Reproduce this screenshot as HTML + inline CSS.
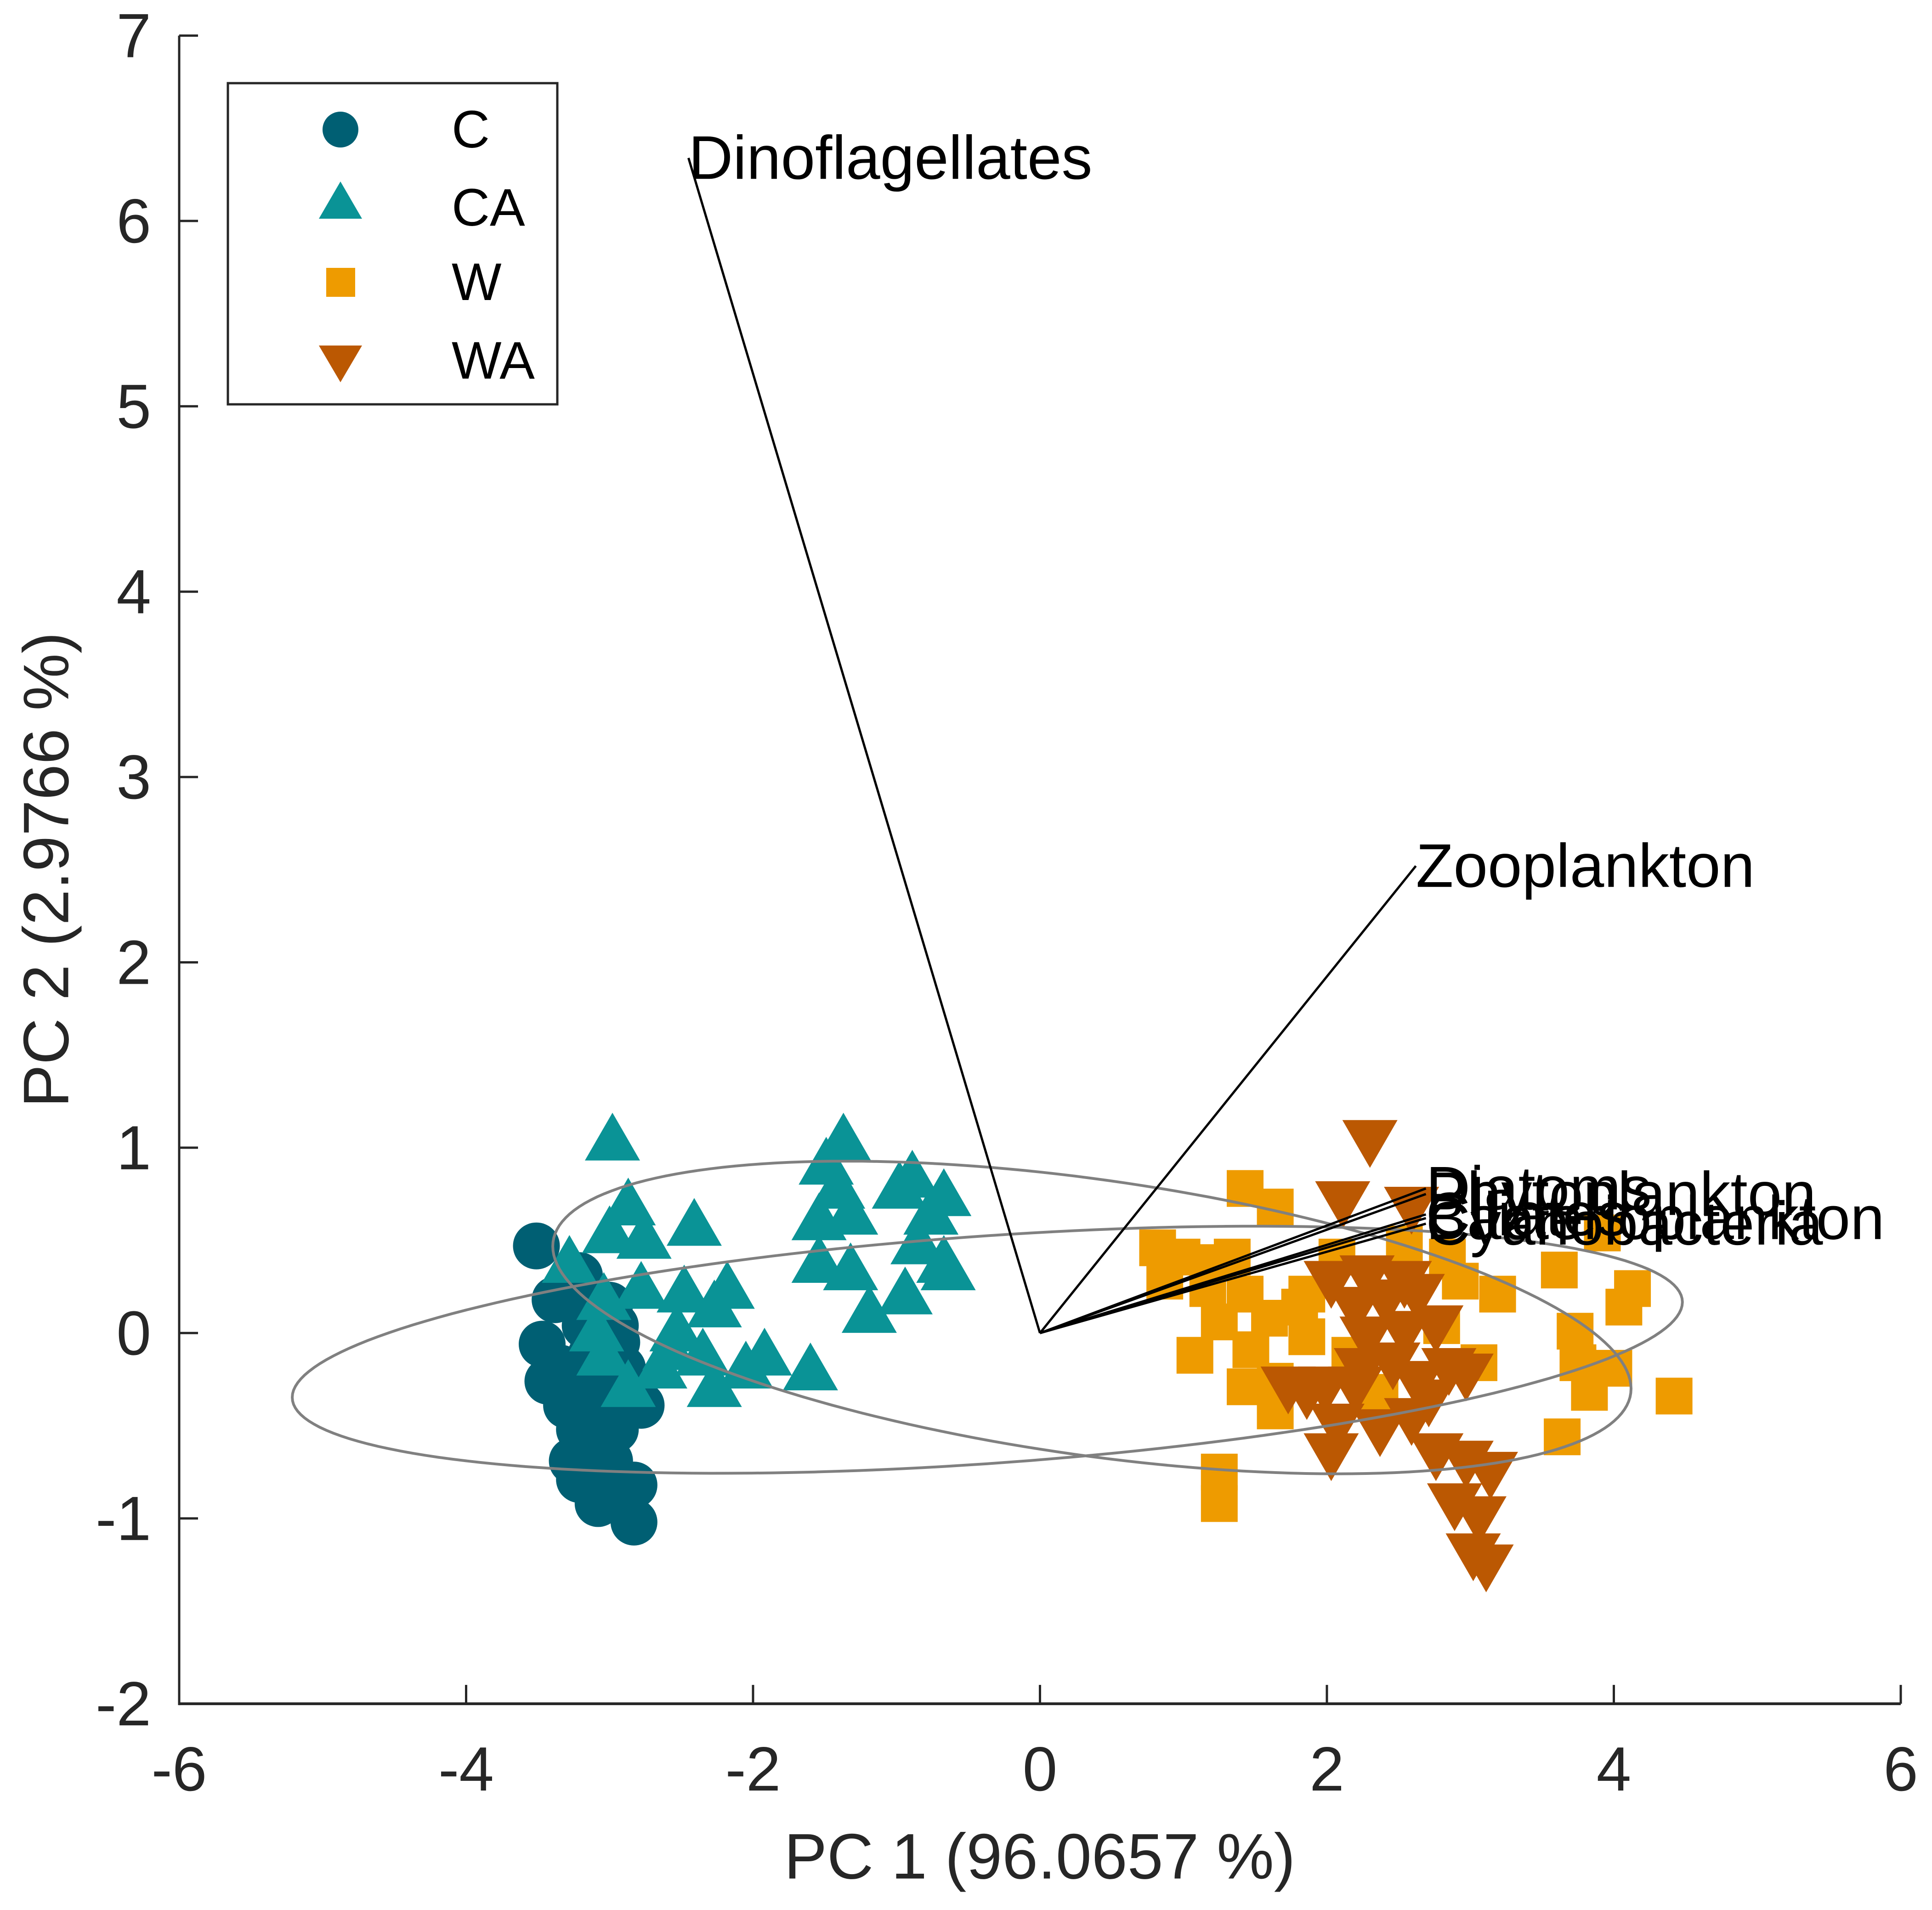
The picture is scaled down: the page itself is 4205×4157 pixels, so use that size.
<!DOCTYPE html>
<html><head><meta charset="utf-8"><style>
html,body{margin:0;padding:0;background:#fff}
svg{display:block}
text{font-family:"Liberation Sans",Arial,sans-serif;fill:#000}
</style></head><body>
<svg id="chart" xmlns="http://www.w3.org/2000/svg" width="4205" height="4157" viewBox="0 0 4205 4157">
<rect width="4205" height="4157" fill="#fff"/>
<g id="points"></g>
<g id="ellipses2"></g>
<g id="vectors"></g>
<g id="axes"></g>
<g>
  <rect x="496" y="181" width="717" height="699" fill="#fff" stroke="#262626" stroke-width="5"/>
  <circle cx="741" cy="282" r="39" fill="#005f73"/>
  <text x="983" y="282" font-size="115" dominant-baseline="central">C</text>
  <polygon points="741,395 788,476 694,476" fill="#0a9396"/>
  <text x="983" y="452" font-size="115" dominant-baseline="central">CA</text>
  <rect x="710" y="583" width="63" height="63" fill="#ee9b00"/>
  <text x="983" y="614" font-size="115" dominant-baseline="central">W</text>
  <polygon points="694,752 788,752 741,832" fill="#bb5802"/>
  <text x="983" y="785" font-size="115" dominant-baseline="central">WA</text>
</g>
<text x="2263" y="4040" font-size="140" text-anchor="middle" dominant-baseline="central" style="fill:#262626">PC 1 (96.0657 %)</text>
<text x="0" y="0" font-size="140" text-anchor="middle" dominant-baseline="central" transform="translate(100,1893) rotate(-90)" style="fill:#262626">PC 2 (2.9766 %)</text>
</svg>
<script>
const xTicks=[-6,-4,-2,0,2,4,6];
const yTicks=[-2,-1,0,1,2,3,4,5,6,7];
const cX=[-3.51,-3.21,-3.38,-3.17,-2.96,-3.47,-3.34,-3.21,-3.43,-3.04,-2.78,-3.30,-3.21,-2.96,-3.26,-3.00,-2.83,-3.08,-2.83,-3.30,-3.13,-2.91,-3.21,-3.08,-3.0,-2.95];
const cY=[0.47,0.31,0.18,0.04,0.04,-0.06,-0.19,-0.26,-0.26,-0.32,-0.39,-0.39,-0.52,-0.52,-0.69,-0.69,-0.82,-0.92,-1.02,0.21,-0.12,-0.19,-0.79,-0.65,0.15,-0.05];
const caX=[-2.98,-2.87,-3.0,-2.76,-2.41,-3.28,-2.78,-3.04,-2.48,-2.18,-2.27,-3.09,-2.53,-2.58,-3.04,-2.65,-2.35,-2.87,-2.27,-2.05,-1.92,-1.60,-1.37,-1.49,-1.41,-1.54,-1.32,-1.54,-1.32,-1.19,-0.94,-0.89,-0.98,-0.67,-0.76,-0.67,-0.85,-0.64];
const caY=[1.04,0.69,0.54,0.51,0.58,0.38,0.24,0.18,0.22,0.24,0.14,0.01,0.01,-0.09,-0.12,-0.19,-0.12,-0.29,-0.29,-0.19,-0.12,-0.20,1.04,0.91,0.78,0.61,0.64,0.38,0.34,0.11,0.21,0.84,0.78,0.74,0.64,0.38,0.48,0.34];
const wX=[1.43,1.64,0.82,0.99,1.21,1.34,0.87,1.17,1.43,1.25,1.60,1.81,1.86,1.08,1.47,1.43,1.64,1.64,1.86,2.07,2.54,2.84,2.93,3.19,2.80,3.06,3.62,3.73,3.75,3.83,4.07,4.13,4.00,4.42,3.64,1.25,1.25,3.92,2.16,2.37];
const wY=[0.78,0.68,0.46,0.41,0.38,0.41,0.28,0.24,0.21,0.06,0.08,0.14,0.21,-0.12,-0.09,-0.29,-0.26,-0.42,-0.02,0.41,0.48,0.41,0.28,0.21,0.04,-0.16,0.34,0.01,-0.16,-0.32,0.14,0.24,-0.19,-0.34,-0.56,-0.75,-0.92,0.54,-0.12,-0.32];
const waX=[2.30,2.11,2.59,2.03,2.28,2.54,2.20,2.41,2.63,2.28,2.54,2.76,2.24,2.46,2.85,1.73,1.99,2.20,2.63,2.97,1.86,2.07,2.37,2.59,2.03,2.76,2.97,3.14,2.89,3.06,3.02,3.11,2.71];
const waY=[1.04,0.71,0.68,0.28,0.31,0.28,0.14,0.18,0.21,-0.02,0.01,0.04,-0.19,-0.16,-0.19,-0.29,-0.29,-0.29,-0.26,-0.22,-0.32,-0.49,-0.52,-0.46,-0.65,-0.65,-0.69,-0.75,-0.92,-0.99,-1.19,-1.25,-0.36];
const vecNames=["Dinoflagellates","Zooplankton","Diatoms","Phytoplankton","Ciliates","Bacterioplankton","Cyanobacteria"];
const vecX=[-2.45,2.62,2.69,2.69,2.69,2.69,2.69];
const vecY=[6.34,2.52,0.78,0.75,0.64,0.62,0.59];
const ellCX=[-0.367,0.362];
const ellCY=[-0.09,0.084];
const ellP=[4.845,3.758];
const ellR=[0.257,-0.384];
const ellS=[0.615,0.751];

const NS="http://www.w3.org/2000/svg";
function X(v){return 2263.5+312.25*v;}
function Y(v){return 77.5+(7-v)*403.4;}
function mk(tag,attrs,parent){const e=document.createElementNS(NS,tag);for(const k in attrs)e.setAttribute(k,attrs[k]);parent.appendChild(e);return e;}
const pts=document.getElementById('points');
cX.forEach((v,i)=>{const e=mk('circle',{cx:X(v),cy:Y(cY[i]),r:51,fill:'#005f73'},pts);

});
caX.forEach((v,i)=>{const x=X(v),y=Y(caY[i]);const e=mk('polygon',{points:`${x},${y-60} ${x+60},${y+44} ${x-60},${y+44}`,fill:'#0a9396'},pts);

});
wX.forEach((v,i)=>{const e=mk('rect',{x:X(v)-40,y:Y(wY[i])-40,width:80,height:80,fill:'#ee9b00'},pts);

});
waX.forEach((v,i)=>{const x=X(v),y=Y(waY[i]);const e=mk('polygon',{points:`${x-60},${y-44} ${x+60},${y-44} ${x},${y+60}`,fill:'#bb5802'},pts);

});
const eg=document.getElementById('ellipses2');
ellCX.forEach((c,i)=>{let d='';for(let k=0;k<=200;k++){const t=k/200*2*Math.PI;const x=X(c+ellP[i]*Math.cos(t));const y=Y(ellCY[i]+ellR[i]*Math.cos(t)+ellS[i]*Math.sin(t));d+=(k?'L':'M')+x.toFixed(1)+','+y.toFixed(1);}
const e=mk('path',{d:d+'Z',fill:'none',stroke:'#808080','stroke-width':6},eg);

});
const vg=document.getElementById('vectors');
vecX.forEach((v,i)=>{const l=mk('line',{x1:X(0),y1:Y(0),x2:X(v),y2:Y(vecY[i]),stroke:'#000','stroke-width':5},vg);


const t=mk('text',{x:X(v),y:Y(vecY[i]),'font-size':134,'dominant-baseline':'central'},vg);t.textContent=vecNames[i];

});
const ag=document.getElementById('axes');
let a=mk('line',{x1:X(-6),y1:Y(-2),x2:X(6),y2:Y(-2),stroke:'#262626','stroke-width':6},ag);


a=mk('line',{x1:X(-6),y1:Y(-2)+3,x2:X(-6),y2:Y(7),stroke:'#262626','stroke-width':5},ag);


xTicks.forEach(v=>{const l=mk('line',{x1:X(v),y1:Y(-2),x2:X(v),y2:Y(-2)-41,stroke:'#262626','stroke-width':5},ag);


const t=mk('text',{x:X(v),y:3850,'font-size':136,'text-anchor':'middle','dominant-baseline':'central',style:'fill:#262626'},ag);t.textContent=String(v);

});
yTicks.forEach(v=>{const l=mk('line',{x1:X(-6),y1:Y(v),x2:X(-6)+41,y2:Y(v),stroke:'#262626','stroke-width':5},ag);


const t=mk('text',{x:329,y:Y(v),'font-size':136,'text-anchor':'end','dominant-baseline':'central',style:'fill:#262626'},ag);t.textContent=String(v);

});
</script>
</body></html>
